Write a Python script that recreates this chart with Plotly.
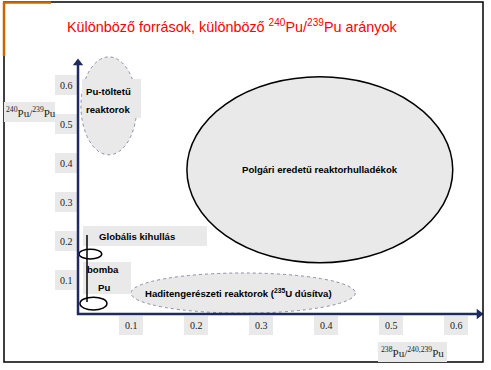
import plotly.graph_objects as go

# ---------------- data ----------------
tick_values = [0.1, 0.2, 0.3, 0.4, 0.5, 0.6]
tick_labels = ["0.1", "0.2", "0.3", "0.4", "0.5", "0.6"]

# source regions: 238Pu/240,239Pu (x) and 240Pu/239Pu (y) ranges
region_names = ["Pu-töltetű reaktorok", "Polgári eredetű reaktorhulladékok",
                "Haditengerészeti reaktorok", "Globális kihullás", "bomba Pu"]
region_x_low = [0.023, 0.186, 0.100, 0.020, 0.0215]
region_x_high = [0.109, 0.595, 0.445, 0.055, 0.063]
region_y_low = [0.421, 0.144, 0.015, 0.154, 0.023]
region_y_high = [0.672, 0.621, 0.118, 0.179, 0.056]

title_text = "Különböző források, különböző <sup>240</sup>Pu/<sup>239</sup>Pu arányok"
y_title = "<sup>240</sup>Pu/<sup>239</sup>Pu"
x_title = "<sup>238</sup>Pu/<sup>240,239</sup>Pu"

# ---------------- layout helpers ----------------
W, H = 491, 370
X0PX, XS = 66.0, 650.0     # pixel of x=0, pixels per unit
Y0PX, YS = 319.0, 390.0    # pixel of y=0, pixels per unit


def px(p):
    return p / W


def py(p):
    return 1 - p / H


def dx(p):
    return (p - X0PX) / XS


def dy(p):
    return (Y0PX - p) / YS


GRAY = "#e9e9e9"
NAVY = "#1f2a5e"
SANS = "Liberation Sans"
SERIF = "Liberation Serif"
LBL = 9.6

fig = go.Figure()

shapes = []
annotations = []

# outer frame
shapes.append(dict(type="rect", xref="paper", yref="paper", x0=px(4), x1=px(483),
                   y0=py(2), y1=py(362), line=dict(color="black", width=1.5)))
shapes.append(dict(type="line", xref="paper", yref="paper", x0=px(4), x1=px(51),
                   y0=py(2.5), y1=py(2.5), line=dict(color="#cc6600", width=2.5)))
shapes.append(dict(type="line", xref="paper", yref="paper", x0=px(4), x1=px(4),
                   y0=py(2), y1=py(56), line=dict(color="#cc6600", width=2.5)))

# region ellipses
styles = [
    dict(fill=GRAY, line=dict(color="#8c8ca4", width=1, dash="dot")),
    dict(fill=GRAY, line=dict(color="black", width=1.5)),
    dict(fill=GRAY, line=dict(color="#8c8ca4", width=1, dash="dot")),
    dict(fill="rgba(0,0,0,0)", line=dict(color="black", width=1.5)),
    dict(fill="rgba(0,0,0,0)", line=dict(color="black", width=1.5)),
]
for i in range(len(region_names)):
    shapes.append(dict(type="circle", xref="x", yref="y",
                       x0=region_x_low[i], x1=region_x_high[i],
                       y0=region_y_low[i], y1=region_y_high[i],
                       fillcolor=styles[i]["fill"], line=styles[i]["line"]))


def box(l, t, r, b):
    shapes.append(dict(type="rect", xref="paper", yref="paper", x0=px(l), x1=px(r),
                       y0=py(t), y1=py(b), fillcolor=GRAY, line=dict(width=0)))


# label boxes
for (l, t, r, b) in [(82, 79, 141, 118), (83, 226, 207, 246), (83, 262, 131, 294)]:
    box(l, t, r, b)

# tick label boxes
for v in tick_values:
    cxp = X0PX + XS * v
    box(cxp - 12, 316, cxp + 12, 335)
    cyp = Y0PX - YS * v
    box(55, cyp - 10, 77, cyp + 10)

# axis title boxes
box(4, 102, 55, 122)
box(378, 342, 447, 362)

# bomb Pu connector line
shapes.append(dict(type="line", xref="x", yref="y", x0=dx(87), x1=dx(87),
                   y0=dy(235), y1=dy(302), line=dict(color="black", width=1.5)))

# axis lines
shapes.append(dict(type="line", xref="x", yref="y", x0=dx(78), x1=dx(78),
                   y0=dy(315), y1=dy(64), line=dict(color=NAVY, width=2.5)))
shapes.append(dict(type="line", xref="x", yref="y", x0=dx(77), x1=dx(478),
                   y0=dy(314), y1=dy(314), line=dict(color=NAVY, width=2.5)))

# arrow heads
fig.add_trace(go.Scatter(x=[dx(78), dx(479)], y=[dy(63), dy(314)], mode="markers",
                         marker=dict(symbol=["triangle-up", "triangle-right"], size=9,
                                     color=NAVY, line=dict(width=0)),
                         showlegend=False, hoverinfo="skip"))

# title
annotations.append(dict(text=title_text, xref="paper", yref="paper", x=px(65), y=py(26),
                        xanchor="left", yanchor="middle", showarrow=False,
                        font=dict(family=SANS, size=14.4, color="#ff0000")))


def label(text, x, y, xanchor="left", size=LBL, family=SANS, color="black", weight="bold"):
    annotations.append(dict(text=text, xref="paper", yref="paper", x=px(x), y=py(y),
                            xanchor=xanchor, yanchor="middle", showarrow=False,
                            font=dict(family=family, size=size, color=color, weight=weight)))


# region labels
label("Pu-töltetű", 84, 91)
label("reaktorok", 84, 109)
label("Globális kihullás", 97, 236)
label("bomba", 85, 269)
label("Pu", 96, 287)
label("Polgári eredetű reaktorhulladékok", 320, 169, xanchor="center")
label("Haditengerészeti reaktorok (<sup>235</sup>U dúsítva)", 238, 293, xanchor="center")

# tick labels
for v, t in zip(tick_values, tick_labels):
    annotations.append(dict(text=t, xref="x", yref="paper", x=v, y=py(325.5),
                            xanchor="center", yanchor="middle", showarrow=False,
                            font=dict(family=SERIF, size=10, color="#222222")))
    annotations.append(dict(text=t, xref="paper", yref="y", x=px(66), y=v,
                            xanchor="center", yanchor="middle", showarrow=False,
                            font=dict(family=SERIF, size=10, color="#222222")))

# axis titles
label(y_title, 30.5, 112, xanchor="center", size=11, family=SERIF, color="#222222",
      weight="normal")
label(x_title, 412.5, 352, xanchor="center", size=11, family=SERIF, color="#222222",
      weight="normal")

fig.update_layout(
    width=W, height=H,
    margin=dict(l=0, r=0, t=0, b=0),
    paper_bgcolor="white", plot_bgcolor="white",
    showlegend=False,
    xaxis=dict(range=[dx(0), dx(W)], visible=False, fixedrange=True),
    yaxis=dict(range=[dy(H), dy(0)], visible=False, fixedrange=True),
    shapes=shapes,
    annotations=annotations,
)

fig.write_html("out.html", config={"displayModeBar": False},
               post_script="document.body.style.margin='0';document.body.style.padding='0';")
